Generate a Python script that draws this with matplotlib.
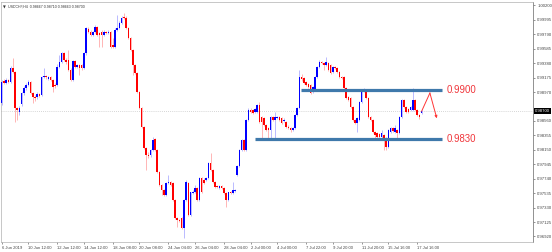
import matplotlib
matplotlib.use("Agg")
import matplotlib.pyplot as plt

# ---------------- data (USDCHF H4) ----------------
opens = [0.9882,0.9913,0.9910,0.9914,0.9911,0.9931,0.9926,0.9874,0.9869,0.9880,
         0.9896,0.9903,0.9907,0.9911,0.9896,0.9890,0.9890,0.9894,0.9893,0.9918,
         0.9920,0.9916,0.9918,0.9914,0.9907,0.9907,0.9933,0.9940,0.9953,0.9943,
         0.9943,0.9928,0.9914,0.9941,0.9933,0.9936,0.9936,0.9931,0.9953,0.9987,
         0.9982,0.9978,0.9982,0.9990,0.9981,0.9982,0.9978,0.9982,0.9981,0.9982,
         0.9964,0.9961,0.9985,0.9988,0.9995,1.0004,1.0002,0.9988,0.9974,0.9957,
         0.9936,0.9924,0.9897,0.9874,0.9848,0.9818,0.9808,0.9808,0.9815,0.9830,
         0.9815,0.9784,0.9765,0.9758,0.9751,0.9768,0.9769,0.9768,0.9744,0.9718,
         0.9715,0.9718,0.9704,0.9744,0.9768,0.9723,0.9754,0.9755,0.9761,0.9744,
         0.9775,0.9772,0.9772,0.9775,0.9796,0.9786,0.9769,0.9764,0.9761,0.9764,
         0.9761,0.9754,0.9744,0.9755,0.9754,0.9757,0.9779,0.9792,0.9815,0.9829,
         0.9815,0.9857,0.9872,0.9872,0.9869,0.9869,0.9879,0.9862,0.9860,0.9850,
         0.9846,0.9843,0.9862,0.9857,0.9860,0.9862,0.9860,0.9856,0.9855,0.9848,
         0.9846,0.9843,0.9846,0.9865,0.9874,0.9918,0.9917,0.9911,0.9909,0.9907,
         0.9897,0.9900,0.9918,0.9933,0.9940,0.9938,0.9936,0.9938,0.9936,0.9926,
         0.9933,0.9931,0.9926,0.9918,0.9918,0.9903,0.9890,0.9889,0.9876,0.9857,
         0.9853,0.9857,0.9883,0.9899,0.9900,0.9889,0.9862,0.9857,0.9840,0.9839,
         0.9838,0.9833,0.9836,0.9832,0.9819,0.9840,0.9846,0.9840,0.9843,0.9839,
         0.9862,0.9886,0.9876,0.9873,0.9872,0.9872,0.9886,0.9872,0.9865,0.98667]
highs = [0.9914,0.9916,0.9917,0.9916,0.9934,0.9945,0.9927,0.9876,0.9877,0.9897,
         0.9906,0.9910,0.9914,0.9913,0.9897,0.9893,0.9897,0.9896,0.9920,0.9931,
         0.9921,0.9920,0.9920,0.9916,0.9910,0.9937,0.9950,0.9954,0.9954,0.9945,
         0.9957,0.9931,0.9943,0.9943,0.9937,0.9937,0.9937,0.9954,0.9990,0.9990,
         0.9985,0.9984,0.9992,0.9991,0.9982,0.9985,0.9985,0.9984,0.9985,0.9984,
         0.9974,0.9988,1.0007,0.9998,1.0005,1.0009,1.0005,0.9990,0.9975,0.9958,
         0.9937,0.9926,0.9899,0.9876,0.9849,0.9819,0.9812,0.9816,0.9833,0.9832,
         0.9816,0.9785,0.9767,0.9759,0.9769,0.9779,0.9771,0.9769,0.9745,0.9720,
         0.9717,0.9720,0.9745,0.9772,0.9769,0.9755,0.9758,0.9765,0.9762,0.9777,
         0.9777,0.9775,0.9777,0.9798,0.9811,0.9788,0.9771,0.9765,0.9765,0.9765,
         0.9762,0.9755,0.9755,0.9757,0.9769,0.9759,0.9793,0.9816,0.9830,0.9830,
         0.9859,0.9874,0.9874,0.9873,0.9874,0.9880,0.9883,0.9863,0.9862,0.9852,
         0.9848,0.9863,0.9863,0.9869,0.9863,0.9863,0.9862,0.9860,0.9856,0.9850,
         0.9848,0.9848,0.9866,0.9876,0.9928,0.9923,0.9918,0.9913,0.9910,0.9909,
         0.9906,0.9920,0.9934,0.9943,0.9941,0.9940,0.9947,0.9940,0.9937,0.9934,
         0.9934,0.9933,0.9927,0.9920,0.9920,0.9904,0.9892,0.9890,0.9877,0.9859,
         0.9862,0.9884,0.9901,0.9903,0.9901,0.9890,0.9863,0.9859,0.9842,0.9840,
         0.9839,0.9843,0.9838,0.9833,0.9845,0.9848,0.9848,0.9850,0.9845,0.9863,
         0.9887,0.9887,0.9877,0.9874,0.9877,0.9903,0.9887,0.9873,0.9866,0.98710]
lows = [0.9879,0.9909,0.9909,0.9910,0.9910,0.9924,0.9855,0.9857,0.9865,0.9877,
        0.9893,0.9900,0.9906,0.9894,0.9882,0.9884,0.9887,0.9890,0.9892,0.9917,
        0.9916,0.9914,0.9913,0.9897,0.9903,0.9906,0.9931,0.9938,0.9941,0.9937,
        0.9927,0.9913,0.9913,0.9931,0.9931,0.9921,0.9928,0.9930,0.9950,0.9981,
        0.9977,0.9977,0.9981,0.9977,0.9961,0.9961,0.9977,0.9980,0.9980,0.9960,
        0.9960,0.9960,0.9984,0.9987,0.9994,1.0001,0.9987,0.9972,0.9955,0.9921,
        0.9923,0.9896,0.9873,0.9846,0.9816,0.9786,0.9803,0.9805,0.9813,0.9813,
        0.9782,0.9764,0.9751,0.9750,0.9750,0.9767,0.9764,0.9742,0.9717,0.9706,
        0.9713,0.9703,0.9690,0.9742,0.9721,0.9721,0.9752,0.9754,0.9742,0.9742,
        0.9754,0.9767,0.9771,0.9774,0.9785,0.9768,0.9761,0.9761,0.9759,0.9759,
        0.9752,0.9734,0.9742,0.9752,0.9752,0.9755,0.9778,0.9791,0.9813,0.9813,
        0.9813,0.9856,0.9867,0.9866,0.9867,0.9867,0.9853,0.9832,0.9849,0.9842,
        0.9832,0.9832,0.9856,0.9832,0.9859,0.9856,0.9852,0.9855,0.9846,0.9845,
        0.9840,0.9842,0.9845,0.9863,0.9873,0.9913,0.9909,0.9906,0.9903,0.9894,
        0.9896,0.9899,0.9917,0.9931,0.9937,0.9928,0.9934,0.9927,0.9923,0.9924,
        0.9930,0.9924,0.9917,0.9916,0.9901,0.9887,0.9884,0.9874,0.9856,0.9852,
        0.9840,0.9856,0.9882,0.9897,0.9887,0.9860,0.9856,0.9839,0.9830,0.9832,
        0.9832,0.9832,0.9815,0.9815,0.9818,0.9839,0.9840,0.9839,0.9832,0.9838,
        0.9860,0.9874,0.9867,0.9867,0.9870,0.9870,0.9870,0.9863,0.9859,0.98663]
closes = [0.9911,0.9910,0.9914,0.9911,0.9931,0.9926,0.9874,0.9872,0.9874,0.9896,
          0.9903,0.9907,0.9911,0.9896,0.9890,0.9889,0.9894,0.9892,0.9918,0.9920,
          0.9918,0.9918,0.9914,0.9904,0.9906,0.9933,0.9940,0.9953,0.9943,0.9940,
          0.9928,0.9914,0.9941,0.9933,0.9936,0.9931,0.9931,0.9953,0.9988,0.9982,
          0.9978,0.9982,0.9990,0.9978,0.9978,0.9978,0.9982,0.9981,0.9982,0.9961,
          0.9961,0.9985,0.9988,0.9995,1.0002,1.0002,0.9988,0.9974,0.9957,0.9936,
          0.9924,0.9897,0.9874,0.9848,0.9818,0.9808,0.9806,0.9815,0.9829,0.9815,
          0.9784,0.9765,0.9758,0.9751,0.9768,0.9769,0.9765,0.9744,0.9718,0.9715,
          0.9714,0.9704,0.9744,0.9769,0.9723,0.9755,0.9755,0.9761,0.9744,0.9775,
          0.9755,0.9768,0.9775,0.9796,0.9786,0.9769,0.9762,0.9762,0.9764,0.9761,
          0.9754,0.9744,0.9755,0.9754,0.9758,0.9758,0.9792,0.9815,0.9829,0.9815,
          0.9857,0.9872,0.9869,0.9867,0.9873,0.9879,0.9855,0.9855,0.9850,0.9843,
          0.9843,0.9862,0.9857,0.9862,0.9862,0.9857,0.9853,0.9857,0.9848,0.9846,
          0.9843,0.9846,0.9865,0.9874,0.9918,0.9916,0.9910,0.9907,0.9904,0.9896,
          0.9904,0.9918,0.9933,0.9940,0.9938,0.9936,0.9940,0.9928,0.9924,0.9933,
          0.9931,0.9926,0.9918,0.9917,0.9903,0.9889,0.9886,0.9876,0.9857,0.9853,
          0.9860,0.9883,0.9900,0.9901,0.9889,0.9862,0.9857,0.9840,0.9836,0.9833,
          0.9833,0.9839,0.9829,0.9819,0.9843,0.9846,0.9842,0.9846,0.9839,0.9862,
          0.9886,0.9876,0.9869,0.9869,0.9876,0.9886,0.9872,0.9865,0.9862,0.98700]

x_tick_bars = [0, 12, 25, 37, 50, 62, 75, 87, 100, 112, 124, 137, 149, 162, 174, 187]
x_tick_labels = ["6 Jun 2019", "10 Jun 12:00", "12 Jun 12:00", "14 Jun 12:00",
                 "18 Jun 08:00", "20 Jun 08:00", "24 Jun 04:00", "26 Jun 04:00",
                 "28 Jun 04:00", "2 Jul 00:00", "4 Jul 00:00", "7 Jul 22:00",
                 "9 Jul 20:00", "11 Jul 20:00", "15 Jul 16:00", "17 Jul 16:00"]
y_tick_values = [1.00200, 0.99995, 0.99790, 0.99585, 0.99380, 0.99175, 0.98970,
                 0.98560, 0.98355, 0.98150, 0.97945, 0.97740, 0.97535, 0.97330,
                 0.97125, 0.96920]

resistance = 0.9900
support = 0.9830
resistance_start = 134.7
support_start = 114.0
level_end = 198.2
forecast_bars = [189, 192.7, 195.8]
forecast_prices = [0.98700, 0.98957, 0.98598]
current_price = 0.98700
header = "USDCHF,H4  0.98667 0.98710 0.98663 0.98700"

# ---------------- figure ----------------
W, H = 552, 252
fig = plt.figure(figsize=(W / 100, H / 100), dpi=100)
ax = fig.add_axes([1 / W, 10 / H, 532 / W, 240 / H])
ax.set_xlim(-0.315, 239.1)
ax.set_ylim(0.968416, 1.002496)

up_c, dn_c = "#0000ff", "#ff0000"
up_w, dn_w = "#b0b0ff", "#ffaaaa"
bw = 0.7
for i, (o, h, l, c) in enumerate(zip(opens, highs, lows, closes)):
    up = c >= o
    ax.vlines(i, l, h, color=up_w if up else dn_w, lw=0.6, zorder=2)
    bottom = min(o, c)
    height = max(abs(c - o), 0.00006)
    ax.bar(i, height, bw, bottom=bottom, color=up_c if up else dn_c,
           lw=0, zorder=3)

# bid line
ax.axhline(current_price, color="#c8c8c8", lw=0.6, ls=(0, (1, 1.5)), zorder=1)

# support / resistance
lvl_col = "#3f79ab"
ax.hlines([resistance], resistance_start, level_end, color=lvl_col, lw=2.3, zorder=4)
ax.hlines([support], support_start, level_end, color=lvl_col, lw=2.3, zorder=4)
txt_col = "#f0353a"
ax.text(level_end + 2.2, resistance, f"{resistance:.4f}", color=txt_col,
        fontsize=6.9, family="Liberation Sans", va="center", ha="left")
ax.text(level_end + 2.2, support, f"{support:.4f}", color=txt_col,
        fontsize=6.9, family="Liberation Sans", va="center", ha="left")

# forecast arrow
ax.plot(forecast_bars[:2], forecast_prices[:2], color="#ff3535", lw=0.7, zorder=5)
ax.annotate("", xy=(forecast_bars[2], forecast_prices[2]),
            xytext=(forecast_bars[1], forecast_prices[1]),
            arrowprops=dict(arrowstyle="-|>", color="#ff3535", lw=0.7,
                            mutation_scale=3.5, shrinkA=0, shrinkB=0), zorder=5)

# axes styling
for s in ["left", "top", "bottom"]:
    ax.spines[s].set_color("#b0b0b0")
    ax.spines[s].set_linewidth(0.5)
ax.spines["right"].set_color("#808080")
ax.spines["right"].set_linewidth(0.6)

ax.yaxis.tick_right()
ax.set_yticks(y_tick_values)
ax.set_yticklabels([f"{v:.5f}" for v in y_tick_values])
ax.tick_params(axis="y", length=1.5, width=0.4, pad=1.5, labelsize=3.1,
               colors="#444444")
ax.set_xticks(x_tick_bars)
ax.set_xticklabels(x_tick_labels, ha="left")
ax.tick_params(axis="x", length=1.5, width=0.4, pad=1.5, labelsize=3.0,
               colors="#444444")
for lab in ax.get_xticklabels() + ax.get_yticklabels():
    lab.set_family("Liberation Sans")

# current price box
ax.text(1.003, current_price, f"{current_price:.5f}", transform=ax.get_yaxis_transform(),
        fontsize=3.1, family="Liberation Sans", color="white", va="center", ha="left",
        bbox=dict(boxstyle="square,pad=0.25", fc="black", ec="black", lw=0))

# header
ax.text(0.004, 0.985, "\u25BC", transform=ax.transAxes, fontsize=2.6,
        color="#333333", va="top", ha="left")
ax.text(0.014, 0.988, header, transform=ax.transAxes, fontsize=2.6,
        family="Liberation Sans", color="#333333", va="top", ha="left")

fig.savefig("out.png", dpi=100, facecolor="white")
